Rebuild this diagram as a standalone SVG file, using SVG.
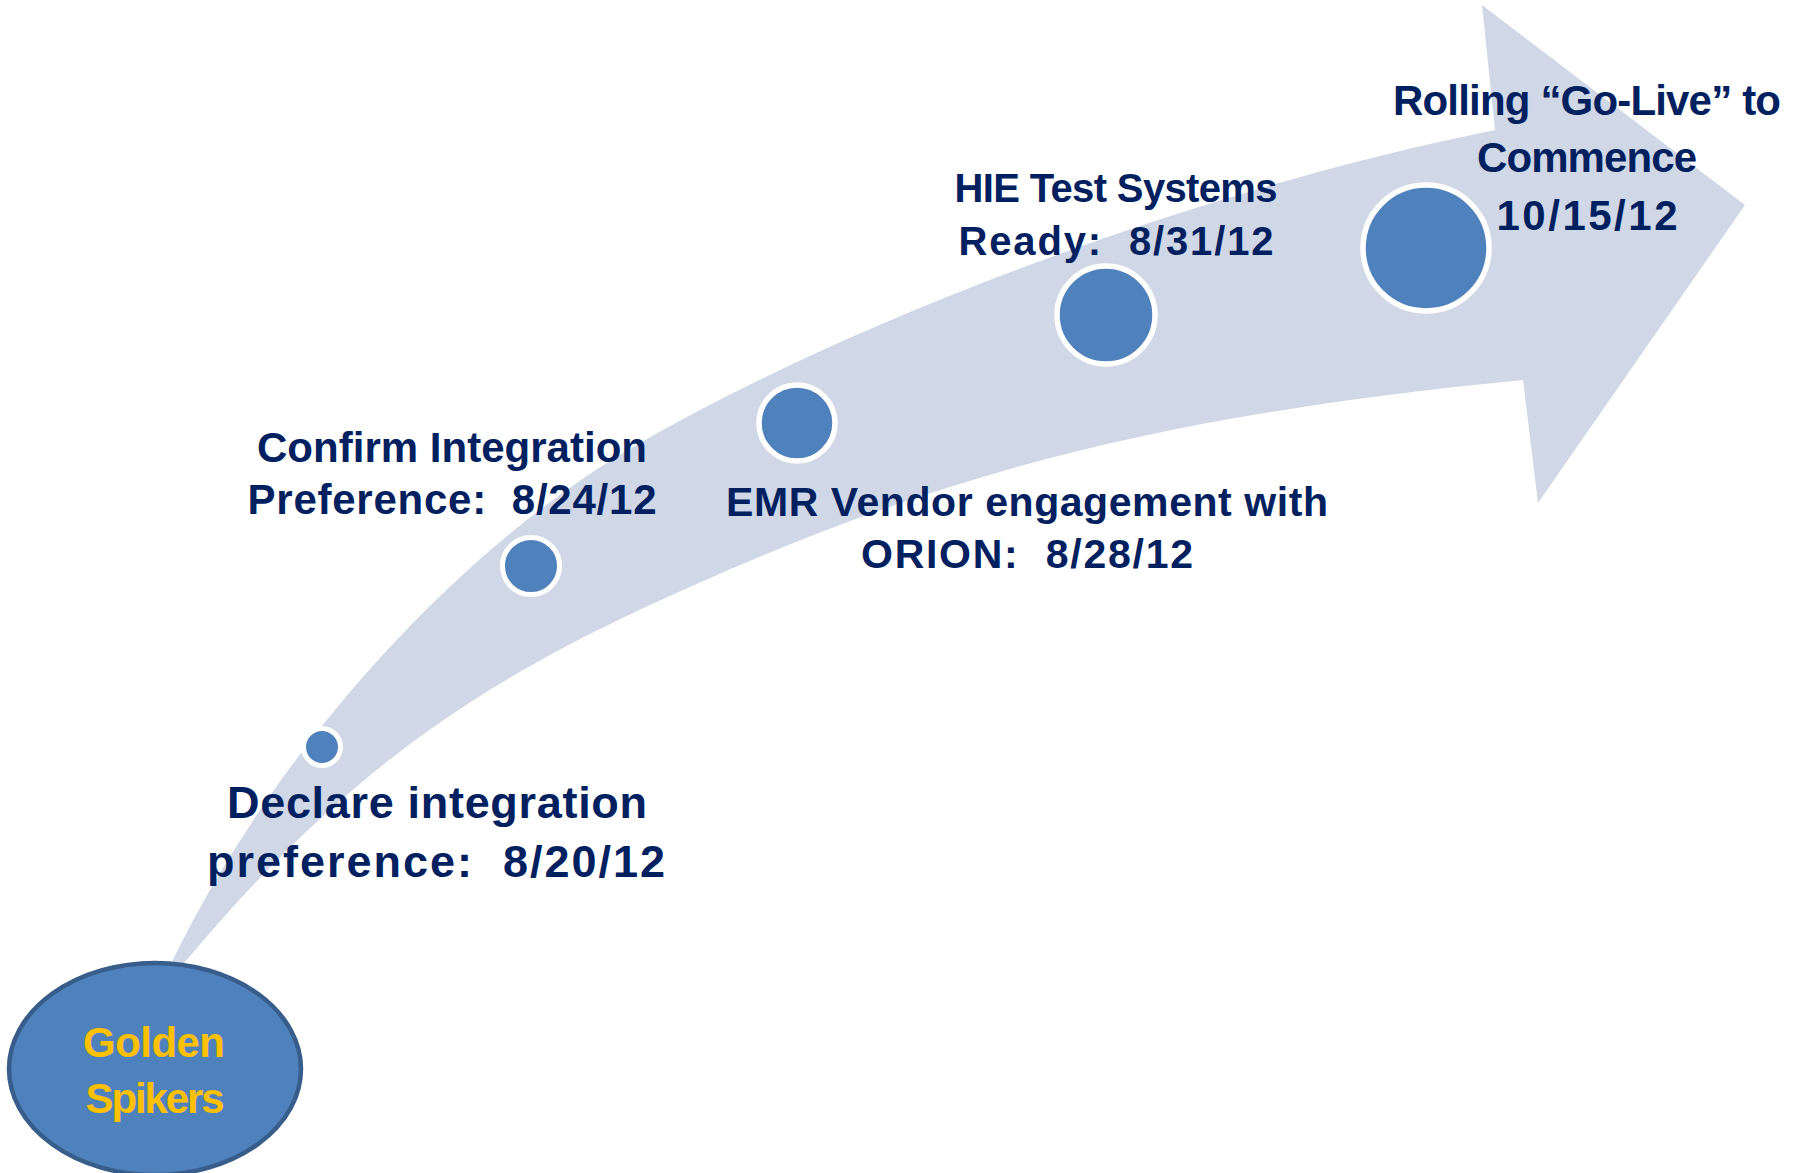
<svg xmlns="http://www.w3.org/2000/svg" width="1804" height="1173" viewBox="0 0 1804 1173">
<style>
.lbl{font-family:"Liberation Sans",Arial,sans-serif;font-weight:bold;fill:#002060;text-anchor:middle;white-space:pre}
.gold{font-family:"Liberation Sans",Arial,sans-serif;font-weight:bold;fill:#FFC000;text-anchor:middle}
.dot{fill:#4F81BD;stroke:#FFFFFF}
</style>
<rect width="1804" height="1173" fill="#FFFFFF"/>
<g id="connectors">
<path id="arrow" fill="#D0D8E8" d="M165,972 L170,966 C269,758 454,551 633,447 C861,315 1206,188 1495,130 L1482,5 L1745,205 L1538,503 L1523,380 C1147,417 925,476 633,613 C442,703 318,802 180,968 Z"/>
</g>
<g id="m1">
<circle class="dot" cx="322" cy="747" r="18.5" stroke-width="5"/>
<text class="lbl" x="437" y="818" font-size="45" textLength="420">Declare integration</text>
<text class="lbl" x="436" y="877" font-size="45" textLength="458">preference:  8/20/12</text>
</g>
<g id="m2">
<circle class="dot" cx="531" cy="566" r="28.5" stroke-width="5"/>
<text class="lbl" x="452" y="462" font-size="42" textLength="390">Confirm Integration</text>
<text class="lbl" x="452" y="514" font-size="42" textLength="409">Preference:  8/24/12</text>
</g>
<g id="m3">
<circle class="dot" cx="797" cy="423" r="38" stroke-width="5.5"/>
<text class="lbl" x="1027" y="516" font-size="41" textLength="602">EMR Vendor engagement with</text>
<text class="lbl" x="1027" y="568" font-size="41" textLength="332">ORION:  8/28/12</text>
</g>
<g id="m4">
<circle class="dot" cx="1106" cy="315" r="49" stroke-width="5.5"/>
<text class="lbl" x="1116" y="202" font-size="40" textLength="323">HIE Test Systems</text>
<text class="lbl" x="1116" y="255" font-size="40" textLength="315">Ready:  8/31/12</text>
</g>
<g id="m5">
<circle class="dot" cx="1426" cy="248" r="63" stroke-width="5.5"/>
<text class="lbl" x="1587" y="115" font-size="42" textLength="388">Rolling “Go-Live” to</text>
<text class="lbl" x="1587" y="172" font-size="42" textLength="220">Commence</text>
<text class="lbl" x="1587" y="230" font-size="42" textLength="181">10/15/12</text>
</g>
<g id="start">
<ellipse cx="155" cy="1069" rx="146" ry="106" fill="#4F81BD" stroke="#385D8A" stroke-width="4.5"/>
<text class="gold" x="154" y="1057" font-size="42" textLength="142">Golden</text>
<text class="gold" x="155" y="1113" font-size="42" textLength="139">Spikers</text>
</g>
</svg>
